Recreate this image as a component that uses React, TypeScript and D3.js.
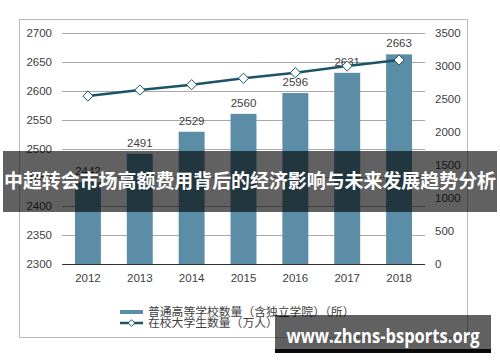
import React from 'react';
import * as d3 from 'd3';

const years = ['2012', '2013', '2014', '2015', '2016', '2017', '2018'];
const schools = [2442, 2491, 2529, 2560, 2596, 2631, 2663];
const students = [2545, 2636, 2717, 2814, 2898, 3000, 3091];
const leftTicks = [2300, 2350, 2400, 2450, 2500, 2550, 2600, 2650, 2700];
const rightTicks = [0, 500, 1000, 1500, 2000, 2500, 3000, 3500];
const legendLabels = ['普通高等学校数量（含独立学院）（所）', '在校大学生数量（万人）'];
const bannerText = '中超转会市场高额费用背后的经济影响与未来发展趋势分析';
const watermark = 'www.zhcns-bsports.org';

const W = 500;
const H = 362;
const barColor = '#5b8ea6';
const lineColor = '#1a5468';
const textColor = '#404040';
const font = '"Liberation Sans", Arial, sans-serif';
const cjk = '"Noto Sans CJK SC", sans-serif';

export default function App() {
  const x = d3.scaleBand().domain(years).range([62, 425]).paddingInner(0.5).paddingOuter(0.25);
  const yL = d3.scaleLinear().domain([2300, 2700]).range([264, 33]);
  const yR = d3.scaleLinear().domain([0, 3500]).range([264, 33]);
  const cx = (yr: string) => (x(yr) || 0) + x.bandwidth() / 2;

  const line = d3.line<number>()
    .x((_, i) => cx(years[i]))
    .y(d => yR(d));

  const diamond = d3.symbol().type(d3.symbolDiamond2).size(66)();
  const smallDiamond = d3.symbol().type(d3.symbolDiamond2).size(28)();

  return (
    <svg width={W} height={H} style={{ position: 'absolute', left: 0, top: 0, background: '#fff' }}>
      <rect x={19.5} y={19.5} width={448} height={318} fill="#fff" stroke="#b8b8b8" />

      {/* gridlines */}
      {leftTicks.map(t => (
        <line key={t} x1={62} x2={425} y1={Math.round(yL(t)) + 0.5} y2={Math.round(yL(t)) + 0.5}
          stroke={t === 2300 ? '#303030' : '#a8a8a8'} strokeWidth={1} />
      ))}

      {/* axis labels */}
      {leftTicks.map(t => (
        <text key={t} x={52} y={yL(t)} dy="0.35em" textAnchor="end" fontSize={11.5}
          fontFamily={font} fill={textColor}>{t}</text>
      ))}
      {rightTicks.map(t => (
        <text key={t} x={435} y={yR(t)} dy="0.35em" textAnchor="start" fontSize={11.5}
          fontFamily={font} fill={textColor}>{t}</text>
      ))}

      {/* bars */}
      {schools.map((v, i) => (
        <g key={years[i]}>
          <rect x={x(years[i])} y={yL(v)} width={x.bandwidth()} height={yL(2300) - yL(v)} fill={barColor} />
          <text x={cx(years[i])} y={yL(v) - 7} textAnchor="middle"
            fontSize={11.5} fontFamily={font} fill={textColor}>{v}</text>
        </g>
      ))}

      {years.map(yr => (
        <text key={yr} x={cx(yr)} y={282} textAnchor="middle"
          fontSize={11.5} fontFamily={font} fill={textColor}>{yr}</text>
      ))}

      {/* line series */}
      <path d={line(students) || ''} fill="none" stroke={lineColor} strokeWidth={2.5} />
      {students.map((v, i) => (
        <path key={i} d={diamond || ''} transform={`translate(${cx(years[i])},${yR(v)})`}
          fill="#fff" stroke={lineColor} strokeWidth={1} />
      ))}

      {/* legend */}
      <rect x={120} y={310} width={23} height={4} fill={barColor} />
      <text x={148} y={312} dy="0.35em" fontSize={11.8} fontFamily={cjk} fill={textColor}>{legendLabels[0]}</text>
      <line x1={120} x2={143} y1={323} y2={323} stroke={lineColor} strokeWidth={2.5} />
      <path d={smallDiamond || ''} transform="translate(131.5,323)" fill="#fff" stroke={lineColor} strokeWidth={1} />
      <text x={148} y={323} dy="0.35em" fontSize={11.8} fontFamily={cjk} fill={textColor}>{legendLabels[1]}</text>

      {/* overlay banner */}
      <rect x={3} y={151} width={494} height={61} fill="rgba(0,0,0,0.62)" />
      <text x={250} y={181} dy="0.35em" textAnchor="middle" fontSize={19} fontWeight="bold"
        fontFamily={cjk} fill="#fff" textLength={492} lengthAdjust="spacingAndGlyphs">{bannerText}</text>

      {/* watermark */}
      <rect x={275} y={315} width={216} height={34} fill="rgba(0,0,0,0.62)" />
      <rect x={275} y={349} width={216} height={4} fill="#0a0a0a" />
      <text x={383} y={343} textAnchor="middle" fontSize={19} fontWeight="bold"
        fontFamily='"Open Sans", "Noto Sans", sans-serif' fill="#fff" textLength={193} lengthAdjust="spacingAndGlyphs">{watermark}</text>
    </svg>
  );
}
